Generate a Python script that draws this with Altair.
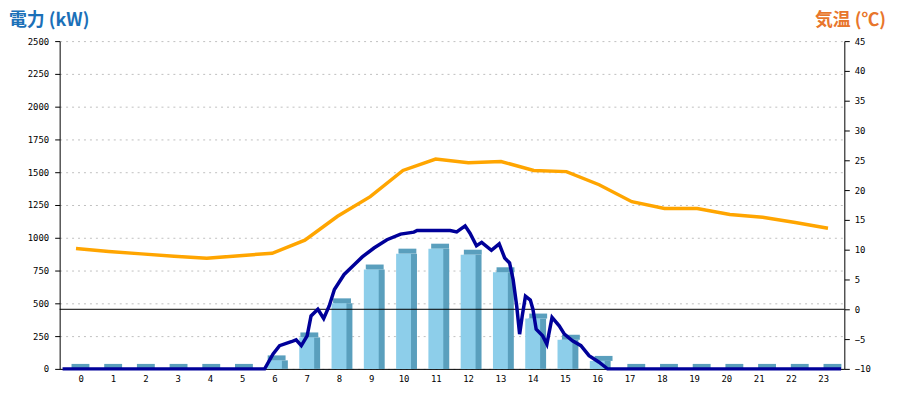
import altair as alt
import pandas as pd

hours = list(range(24))
power_bar = [0, 0, 0, 0, 0, 0, 65, 240, 500, 758, 879, 917, 871, 737, 384, 222, 61, 0, 0, 0, 0, 0, 0, 0]
temperature = [10.2, 9.7, 9.3, 8.9, 8.55, 9.0, 9.4, 11.6, 15.6, 18.9, 23.3, 25.2, 24.6, 24.8, 23.3, 23.1,
               20.9, 18.05, 16.9, 16.9, 15.9, 15.45, 14.55, 13.6]

line_t = [0, 6.23, 6.49, 6.69, 7.05, 7.2, 7.36, 7.54, 7.66, 7.87,
          8.05, 8.22, 8.38, 8.68, 8.99, 9.24, 9.6, 10.0, 10.42, 10.83,
          10.93, 11.95, 12.15, 12.41, 12.56, 12.76, 12.92, 13.22, 13.46, 13.63,
          13.78, 13.89, 14.0, 14.09, 14.17, 14.27, 14.42, 14.5, 14.6, 14.8,
          14.93, 15.09, 15.31, 15.47, 15.72, 15.98, 16.23, 16.54, 16.8, 24]
line_kw = [0, 0, 114, 177, 207, 222, 177, 252, 404, 455,
           384, 480, 606, 720, 795, 854, 922, 985, 1028, 1043,
           1055, 1055, 1045, 1091, 1035, 939, 965, 904, 954, 846,
           808, 682, 480, 265, 404, 555, 525, 455, 303, 252,
           189, 392, 328, 265, 214, 177, 101, 51, 0, 0]

left_title = "電力 (kW)"
right_title = "気温 (℃)"

hourly = pd.DataFrame({"hour": hours, "kw": power_bar, "temp": temperature})
minute = pd.DataFrame({"t": line_t, "kw": line_kw})
titles = pd.DataFrame({"label": [left_title, right_title]})

xscale = alt.Scale(domain=[-0.5, 23.5], nice=False, zero=False)
kwscale = alt.Scale(domain=[0, 2500], nice=False)
tscale = alt.Scale(domain=[-10, 45], nice=False)

DARK = "#5A9FBD"
LIGHT = "#8DCEEA"

base = alt.Chart(hourly)

dark_body = base.mark_bar(size=18, xOffset=4.5, color=DARK).encode(
    x=alt.X("hour:Q", scale=xscale, axis=None),
    y=alt.Y("kw:Q", scale=kwscale, axis=None),
)

dark_top = base.mark_tick(orient="horizontal", size=18, thickness=5, xOffset=4.5, yOffset=-2.5,
                          color=DARK, opacity=1).encode(
    x=alt.X("hour:Q", scale=xscale, axis=None),
    y=alt.Y("kw:Q", scale=kwscale, axis=None),
)

light = base.mark_bar(size=15, color=LIGHT).encode(
    x=alt.X("hour:Q", scale=xscale,
            axis=alt.Axis(values=hours, title=None, ticks=False, grid=False,
                          labelPadding=6, domainColor="black", labelFlush=False)),
    y=alt.Y("kw:Q", scale=kwscale,
            axis=alt.Axis(orient="left", values=list(range(0, 2501, 250)), format="d", grid=True,
                          gridColor="#C0C0C0", gridDash=[2, 4], tickSize=5, tickColor="black",
                          domainColor="black", labelPadding=6, title=None)),
)

zero_rule = alt.Chart(hourly).mark_rule(color="black", strokeWidth=1).encode(
    y=alt.Y("z:Q", scale=tscale, axis=None)
).transform_calculate(z="0").transform_filter("datum.hour == 0")

pline = alt.Chart(minute).mark_line(color="#000099", strokeWidth=3.5).encode(
    x=alt.X("t:Q", scale=alt.Scale(domain=[-0.09, 24.1], nice=False, zero=False), axis=None),
    y=alt.Y("kw:Q", scale=kwscale, axis=None),
)

tline = base.mark_line(color="#FFA500", strokeWidth=3.5).encode(
    x=alt.X("hour:Q", scale=xscale, axis=None),
    y=alt.Y("temp:Q", scale=tscale,
            axis=alt.Axis(orient="right", values=list(range(-10, 46, 5)), grid=False,
                          tickSize=5, tickColor="black", domainColor="black", labelPadding=5,
                          title=None)),
)

tbase = alt.Chart(titles)
ltitle = tbase.transform_filter(alt.datum.label == left_title).mark_text(
    align="left", baseline="middle", font="Noto Sans CJK JP", fontSize=18, fontWeight="bold",
    color="#1B70B8"
).encode(text="label:N", x=alt.value(-51), y=alt.value(-20))

rtitle = tbase.transform_filter(alt.datum.label == right_title).mark_text(
    align="right", baseline="middle", font="Noto Sans CJK JP", fontSize=18, fontWeight="bold",
    color="#E8762C"
).encode(text="label:N", x=alt.value(832), y=alt.value(-20))

chart = alt.layer(dark_body, dark_top, light, zero_rule, pline, tline, ltitle, rtitle).resolve_scale(
    x="independent", y="independent"
).properties(
    width=790, height=330,
    autosize=alt.AutoSizeParams(type="none"),
    padding={"left": 52, "top": 32, "right": 48, "bottom": 30},
).configure_view(stroke=None).configure_axis(
    labelFont="DejaVu Sans Mono", labelFontSize=9, labelColor="black"
)

chart.save("out.html", embed_options={"renderer": "svg", "actions": False})
